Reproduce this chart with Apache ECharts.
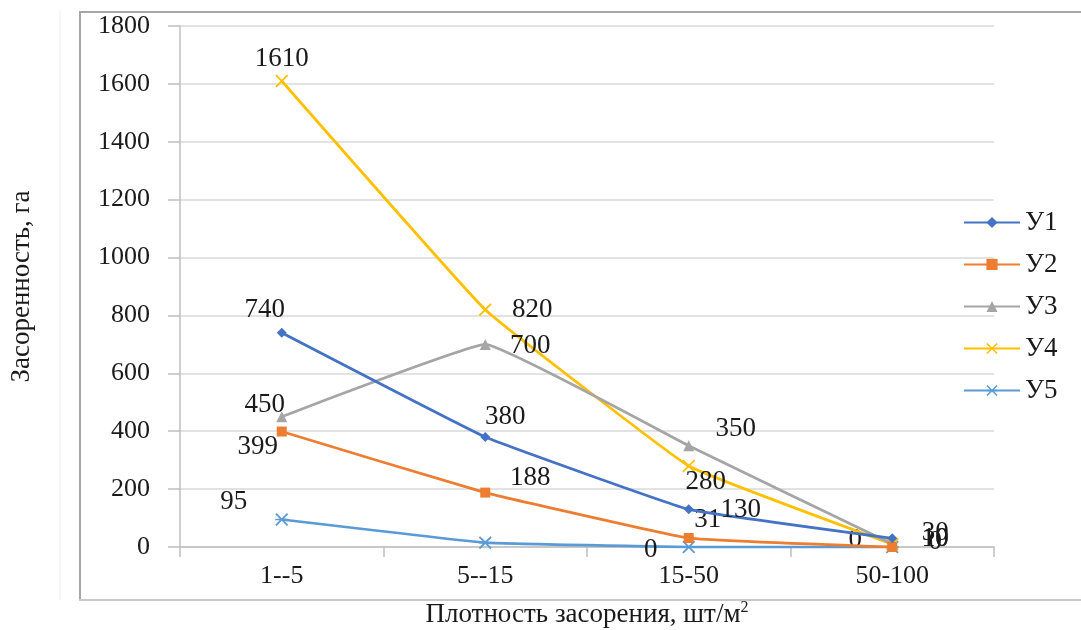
<!DOCTYPE html>
<html>
<head>
<meta charset="utf-8">
<script src="https://cdn.jsdelivr.net/npm/echarts@6/dist/echarts.min.js"></script>
<style>html,body{margin:0;padding:0;background:#fff}#c{width:1081px;height:630px}</style>
</head>
<body>
<div id="c"></div>
<script>
// ---- data ----
const categories = ['1--5', '5--15', '15-50', '50-100'];
const seriesNames = ['У1', 'У2', 'У3', 'У4', 'У5'];
const y1 = [740, 380, 130, 30];
const y2 = [399, 188, 31, 0];
const y3 = [450, 700, 350, 10];
const y4 = [1610, 820, 280, 10];
const y5 = [95, 15, 0, 0];
const yTicks = [0, 200, 400, 600, 800, 1000, 1200, 1400, 1600, 1800];

// ---- presentation ----
const FONT = '"Liberation Serif", "DejaVu Serif", serif';
const colors = ['#4472C4', '#ED7D31', '#A5A5A5', '#FFC000', '#5B9BD5'];
const xPath = 'path://M1,0L5,4L9,0L10,1L6,5L10,9L9,10L5,6L1,10L0,9L4,5L0,1Z';
const starPath = 'path://M1,0L5,4L9,0L10,1L6,5L10,9L9,10L5,6L1,10L0,9L4,5L0,1ZM0,4.4L10,4.4L10,5.6L0,5.6Z';
const symbols = ['diamond', 'rect', 'triangle', xPath, starPath];
const symbolSizes = [10, 10, 11, 13, 13];
// label offsets (dx, dy) from the point; null = hidden
const labelOffsets = [
  [[-17, -23], [20, -20], [52, 1], [43, -5]],
  [[-24, 15], [45, -15], [19, -18], [43, -5]],
  [[-17, -12], [45, 2], [47, -17], [43, -5]],
  [[0, -22], [47, 0], [17, 16], [43, -5]],
  [[-48, -18], null, [-38, 3], [-37, -7]]
];
const values = [y1, y2, y3, y4, y5];

const series = values.map((vals, s) => ({
  name: seriesNames[s],
  type: 'line',
  smooth: 0.08,
  symbol: symbols[s],
  symbolSize: symbolSizes[s],
  color: colors[s],
  lineStyle: { width: 2.75, color: colors[s] },
  itemStyle: { color: colors[s] },
  z: 5 - s + 2,
  data: vals.map((v, i) => {
    const off = labelOffsets[s][i];
    return {
      value: v,
      label: off ? { show: true, position: 'inside', offset: off } : { show: false }
    };
  }),
  label: {
    show: true,
    color: '#1a1a1a',
    fontFamily: FONT,
    fontSize: 27,
    formatter: p => String(p.value)
  }
}));

const chart = echarts.init(document.getElementById('c'), null, { renderer: 'canvas' });
chart.setOption({
  backgroundColor: '#ffffff',
  animation: false,
  grid: { left: 180, right: 87, top: 26, bottom: 83, containLabel: false, outerBoundsMode: 'none' },
  legend: {
    orient: 'vertical',
    left: 958,
    top: 204,
    itemWidth: 56,
    itemHeight: 14,
    itemGap: 15,
    textStyle: { fontFamily: FONT, fontSize: 27, color: '#1a1a1a' },
    data: seriesNames
  },
  xAxis: {
    type: 'category',
    data: categories,
    boundaryGap: true,
    axisLine: { lineStyle: { color: '#bfbfbf', width: 1.5 } },
    axisTick: { show: true, length: 10, lineStyle: { color: '#bfbfbf', width: 1.5 } },
    axisLabel: { margin: 16, fontFamily: FONT, fontSize: 26, color: '#1a1a1a' },
    name: '{a|Плотность засорения, шт/м}{s|2}',
    nameLocation: 'middle',
    nameGap: 53,
    nameTextStyle: {
      rich: {
        a: { fontFamily: FONT, fontSize: 27, color: '#1a1a1a' },
        s: { fontFamily: FONT, fontSize: 16, color: '#1a1a1a', verticalAlign: 'top', padding: [0, 0, 14, 0] }
      }
    }
  },
  yAxis: {
    type: 'value',
    min: yTicks[0],
    max: yTicks[yTicks.length - 1],
    interval: yTicks[1] - yTicks[0],
    axisLine: { show: true, lineStyle: { color: '#bfbfbf', width: 1.5 } },
    axisTick: { show: true, length: 12, lineStyle: { color: '#bfbfbf', width: 1.5 } },
    splitLine: { show: true, lineStyle: { color: '#d9d9d9', width: 1.5 } },
    axisLabel: { margin: 30, fontFamily: FONT, fontSize: 26, color: '#1a1a1a', formatter: v => String(v) },
    name: 'Засоренность, га',
    nameLocation: 'middle',
    nameGap: 145,
    nameTextStyle: { fontFamily: FONT, fontSize: 27, color: '#1a1a1a' }
  },
  graphic: [
    { type: 'line', shape: { x1: 60, y1: 10, x2: 60, y2: 600 }, style: { stroke: '#f0f0f0', lineWidth: 1 }, silent: true },
    { type: 'line', shape: { x1: 80, y1: 12, x2: 80, y2: 600 }, style: { stroke: '#a6a6a6', lineWidth: 2 }, silent: true },
    { type: 'line', shape: { x1: 79, y1: 12, x2: 1081, y2: 12 }, style: { stroke: '#a6a6a6', lineWidth: 2 }, silent: true },
    { type: 'line', shape: { x1: 79, y1: 600, x2: 1081, y2: 600 }, style: { stroke: '#c8c8c8', lineWidth: 2 }, silent: true }
  ],
  series: series
});
</script>
</body>
</html>
